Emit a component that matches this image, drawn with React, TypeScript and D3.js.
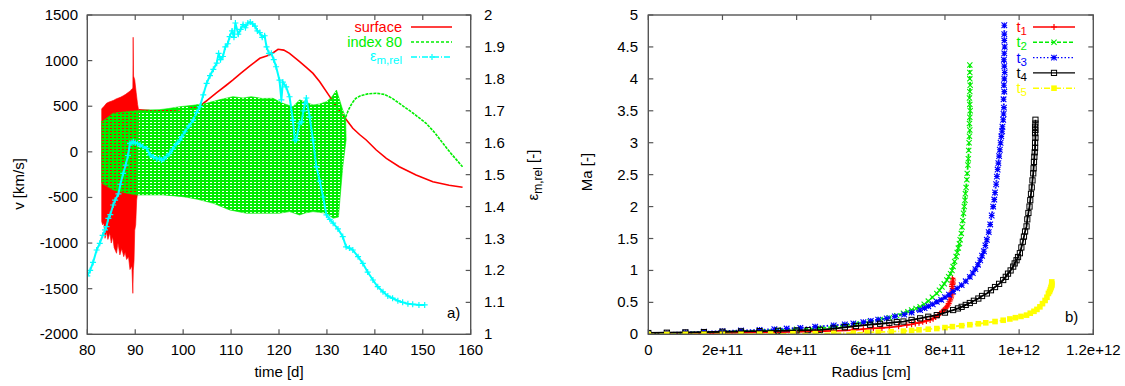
import React from "react";
import * as d3 from "d3";

// ---------- panel a) : velocities and relative mass error vs time ----------
// Oscillating surface velocity during the first days (outer envelope of the burst)
const burstTopTime = [83.0, 83.1, 83.5, 84.0, 84.5, 85.0, 85.5, 86.0, 86.5, 87.0, 87.5, 88.0, 88.5, 89.0, 89.3, 89.5, 89.57, 89.65, 89.9, 90.2, 90.5, 90.7];
const burstTopV = [470, 477, 500, 532, 545, 555, 565, 580, 590, 600, 615, 630, 650, 670, 690, 700, 1256, 830, 790, 650, 520, 460];
const burstBottomTime = [83.0, 83.2, 83.45, 83.7, 84.0, 84.3, 84.7, 85.0, 85.3, 85.6, 86.1, 86.4, 86.8, 87.2, 87.6, 87.9, 88.2, 88.6, 88.9, 89.3, 89.5, 89.6, 89.75, 89.9, 90.1, 90.3, 90.45];
const burstBottomV = [-765, -800, -780, -948, -880, -960, -890, -1000, -930, -1050, -1112, -1000, -1130, -1060, -1149, -1100, -1180, -1150, -1290, -1250, -1551, -1300, -1200, -860, -800, -528, -470];

// Smooth surface velocity afterwards
const surfaceTime = [90.7, 93, 96, 99, 101, 102.5, 103.5, 105, 107, 109, 110.4, 112, 114, 116, 117.4, 118.5, 119.8, 121, 122.2, 124.3, 125.7, 127.1, 128.5, 130.6, 132, 133.3, 135.4, 136.8, 138.2, 140.3, 142.4, 145.1, 148.6, 152.1, 155.5, 158.3];
const surfaceV = [460, 452, 450, 460, 475, 490, 503, 565, 650, 730, 788, 860, 945, 1025, 1050, 1075, 1124, 1115, 1080, 988, 925, 860, 769, 605, 495, 404, 258, 190, 130, 20, -71, -163, -254, -327, -367, -389];

// Zone 80 oscillation band (upper / lower envelope)
const bandTopTime = [83.0, 83.1, 85.4, 88, 90.3, 92.4, 95, 97, 99.3, 102, 104.9, 107.5, 110.4, 112.5, 114.2, 116.5, 118.75, 120.8, 122.9, 124.3, 125.5, 127.1, 128.5, 129.9, 131, 132, 132.7, 133.3, 133.9];
const bandTopV = [340, 330, 423, 440, 450, 459, 462, 475, 495, 510, 532, 570, 605, 590, 605, 585, 587, 532, 495, 570, 545, 514, 525, 550, 600, 678, 560, 459, 380];
const bandBottomTime = [83.0, 83.1, 85.4, 88, 90.3, 95.8, 100, 103, 106.3, 109.7, 113.2, 116.7, 120.1, 122.2, 124.3, 125.5, 127.1, 129.9, 131.3, 132.4, 133.3, 134, 133.9];
const bandBottomV = [-330, -345, -418, -450, -473, -473, -491, -520, -564, -637, -673, -673, -673, -655, -692, -670, -655, -673, -728, -715, -163, 130, 380];

// Zone 80 after the oscillations stop
const zoneTime = [133.9, 134.5, 135.2, 136, 137, 138.5, 140.3, 142, 143.5, 145.1, 146.5, 148, 150.7, 152.5, 154.2, 156, 158.3];
const zoneV = [380, 460, 530, 585, 615, 635, 642, 630, 590, 532, 480, 423, 313, 210, 94, -25, -163];

// Relative mass error (right axis)
const epsTime = [80.0, 80.6, 81.2, 81.95, 82.6, 83.2, 83.7, 84.0, 84.4, 84.8, 85.4, 85.8, 86.5, 86.9, 87.5, 88.0, 88.5, 88.9, 89.3, 89.6, 90.0, 90.5, 91.0, 91.6, 92.4, 93.1, 93.8, 94.5, 95.1, 95.5, 96.0, 96.5, 97.2, 97.8, 98.5, 99.3, 99.7, 100.4, 101.2, 102.1, 102.8, 103.5, 104.2, 104.9, 105.6, 106.3, 107.0, 107.4, 107.8, 108.3, 108.8, 109.3, 109.7, 110.2, 110.6, 110.9, 111.5, 112.0, 112.5, 113.0, 113.5, 114.0, 114.5, 115.0, 115.5, 116.0, 116.5, 117.0, 117.4, 117.9, 118.4, 118.9, 119.4, 120.1, 120.5, 120.8, 121.5, 122.2, 122.9, 123.3, 123.6, 124.3, 124.7, 125.1, 125.4, 125.7, 126.4, 127.1, 127.8, 128.5, 129.2, 129.9, 130.6, 131.3, 132.3, 133.3, 134.0, 134.7, 135.4, 136.5, 137.5, 138.5, 139.6, 140.6, 141.7, 142.7, 143.7, 144.8, 145.8, 146.9, 147.9, 149.2, 150.4];
const epsVal = [1.183, 1.2, 1.225, 1.264, 1.285, 1.31, 1.327, 1.337, 1.363, 1.375, 1.405, 1.42, 1.44, 1.47, 1.504, 1.53, 1.56, 1.598, 1.6, 1.603, 1.6, 1.597, 1.593, 1.588, 1.582, 1.562, 1.555, 1.55, 1.551, 1.546, 1.55, 1.556, 1.567, 1.58, 1.595, 1.608, 1.619, 1.635, 1.652, 1.671, 1.695, 1.713, 1.75, 1.786, 1.81, 1.83, 1.849, 1.88, 1.86, 1.87, 1.9, 1.91, 1.932, 1.95, 1.93, 1.975, 1.94, 1.955, 1.97, 1.96, 1.975, 1.978, 1.972, 1.965, 1.95, 1.945, 1.93, 1.935, 1.9, 1.88, 1.88, 1.86, 1.838, 1.796, 1.734, 1.79, 1.775, 1.744, 1.67, 1.608, 1.609, 1.661, 1.665, 1.7, 1.723, 1.74, 1.68, 1.608, 1.525, 1.48, 1.43, 1.374, 1.36, 1.348, 1.33, 1.306, 1.274, 1.27, 1.264, 1.243, 1.222, 1.195, 1.17, 1.149, 1.133, 1.12, 1.113, 1.105, 1.1, 1.096, 1.094, 1.092, 1.092];

const timeTicks = [80, 90, 100, 110, 120, 130, 140, 150, 160];
const velTicks = [-2000, -1500, -1000, -500, 0, 500, 1000, 1500];
const epsTicks = [1, 1.1, 1.2, 1.3, 1.4, 1.5, 1.6, 1.7, 1.8, 1.9, 2];
const epsTickLabels = ["1", "1.1", "1.2", "1.3", "1.4", "1.5", "1.6", "1.7", "1.8", "1.9", "2"];

// ---------- panel b) : Mach number profiles at five times ----------
// radii are given in units of 1e11 cm
const t1Radius = [0, 0.5, 1, 1.5, 2, 2.5, 3, 3.5, 4, 4.5, 5, 5.5, 5.8, 6.07, 6.3, 6.5, 6.75, 6.97, 7.1, 7.2, 7.3, 7.4, 7.5, 7.6, 7.68, 7.75, 7.82, 7.87, 7.92, 7.97, 8.01, 8.05, 8.08, 8.1, 8.12, 8.14, 8.16, 8.17, 8.19, 8.18, 8.2, 8.21, 8.19, 8.2, 8.21, 8.2, 8.22, 8.2];
const t1Mach = [0.01, 0.012, 0.015, 0.018, 0.02, 0.025, 0.03, 0.035, 0.04, 0.048, 0.055, 0.066, 0.08, 0.094, 0.1, 0.11, 0.125, 0.146, 0.157, 0.17, 0.18, 0.195, 0.21, 0.225, 0.245, 0.27, 0.3, 0.33, 0.355, 0.38, 0.405, 0.43, 0.455, 0.48, 0.51, 0.54, 0.57, 0.6, 0.63, 0.66, 0.69, 0.72, 0.75, 0.78, 0.8, 0.82, 0.85, 0.877];

const t2Radius = [0, 0.5, 1, 1.5, 2, 2.5, 3, 3.5, 4, 4.63, 5, 5.3, 5.6, 5.98, 6.25, 6.5, 6.7, 6.88, 7.0, 7.1, 7.22, 7.33, 7.44, 7.55, 7.66, 7.78, 7.85, 7.92, 7.98, 8.05, 8.1, 8.15, 8.19, 8.22, 8.26, 8.3, 8.33, 8.36, 8.39, 8.41, 8.44, 8.46, 8.48, 8.5, 8.52, 8.54, 8.55, 8.57, 8.59, 8.6, 8.62, 8.63, 8.64, 8.65, 8.66, 8.67, 8.66, 8.67, 8.68, 8.67, 8.66, 8.67, 8.68, 8.67, 8.67, 8.67];
const t2Mach = [0.01, 0.018, 0.025, 0.032, 0.04, 0.05, 0.06, 0.07, 0.08, 0.094, 0.115, 0.14, 0.165, 0.197, 0.23, 0.26, 0.29, 0.33, 0.355, 0.38, 0.405, 0.43, 0.47, 0.52, 0.58, 0.64, 0.69, 0.74, 0.79, 0.85, 0.9, 0.95, 1.0, 1.06, 1.14, 1.22, 1.28, 1.35, 1.42, 1.48, 1.58, 1.68, 1.78, 1.895, 2.0, 2.1, 2.2, 2.3, 2.42, 2.52, 2.65, 2.75, 2.88, 3.0, 3.1, 3.2, 3.3, 3.4, 3.5, 3.6, 3.7, 3.8, 3.9, 4.0, 4.1, 4.217];

const t3Radius = [0, 0.5, 1, 1.5, 2, 2.5, 3, 3.4, 3.73, 4.1, 4.5, 5, 5.3, 5.53, 5.8, 6, 6.2, 6.43, 6.65, 6.9, 7.1, 7.33, 7.45, 7.55, 7.67, 7.78, 7.9, 8, 8.11, 8.22, 8.33, 8.45, 8.56, 8.67, 8.75, 8.82, 8.89, 8.95, 9.0, 9.05, 9.09, 9.13, 9.18, 9.22, 9.26, 9.3, 9.33, 9.35, 9.38, 9.4, 9.42, 9.44, 9.46, 9.48, 9.5, 9.52, 9.54, 9.55, 9.57, 9.58, 9.59, 9.58, 9.6, 9.59, 9.6, 9.61, 9.6, 9.59, 9.6, 9.61, 9.6, 9.6, 9.6];
const t3Mach = [0.01, 0.02, 0.03, 0.04, 0.05, 0.06, 0.07, 0.08, 0.09, 0.1, 0.12, 0.14, 0.155, 0.17, 0.19, 0.21, 0.23, 0.25, 0.28, 0.31, 0.34, 0.38, 0.41, 0.44, 0.47, 0.51, 0.54, 0.58, 0.62, 0.67, 0.72, 0.77, 0.83, 0.9, 0.96, 1.02, 1.09, 1.16, 1.23, 1.3, 1.39, 1.48, 1.6, 1.72, 1.86, 2.0, 2.11, 2.22, 2.35, 2.47, 2.58, 2.68, 2.79, 2.89, 3.0, 3.1, 3.18, 3.25, 3.36, 3.45, 3.55, 3.68, 3.8, 3.9, 4.0, 4.1, 4.2, 4.3, 4.4, 4.5, 4.6, 4.7, 4.84];

const t4Radius = [0, 0.5, 1, 1.5, 2, 2.5, 3, 3.5, 4, 4.3, 4.63, 5, 5.3, 5.6, 5.98, 6.25, 6.5, 6.7, 6.88, 7.1, 7.33, 7.55, 7.78, 8, 8.22, 8.35, 8.45, 8.56, 8.67, 8.78, 8.9, 9.0, 9.13, 9.24, 9.35, 9.46, 9.57, 9.64, 9.7, 9.77, 9.84, 9.88, 9.93, 9.97, 10.02, 10.06, 10.1, 10.13, 10.16, 10.2, 10.22, 10.25, 10.28, 10.3, 10.32, 10.34, 10.36, 10.38, 10.39, 10.4, 10.41, 10.42, 10.43, 10.43, 10.44, 10.43, 10.44, 10.43, 10.44, 10.44];
const t4Mach = [0.02, 0.025, 0.03, 0.035, 0.04, 0.045, 0.05, 0.055, 0.06, 0.065, 0.07, 0.09, 0.11, 0.13, 0.15, 0.165, 0.18, 0.19, 0.2, 0.225, 0.25, 0.275, 0.3, 0.34, 0.38, 0.405, 0.43, 0.46, 0.49, 0.525, 0.56, 0.6, 0.64, 0.69, 0.74, 0.79, 0.85, 0.9, 0.95, 1.0, 1.06, 1.11, 1.16, 1.21, 1.27, 1.36, 1.45, 1.53, 1.61, 1.69, 1.8, 1.9, 2.0, 2.1, 2.2, 2.3, 2.41, 2.52, 2.6, 2.7, 2.78, 2.85, 2.92, 3.0, 3.08, 3.15, 3.2, 3.25, 3.3, 3.36];

const t5Radius = [0, 0.5, 1, 1.5, 2, 2.5, 3, 3.3, 3.9, 4.5, 5, 5.53, 5.9, 6.2, 6.55, 6.88, 7.1, 7.3, 7.55, 7.78, 8, 8.2, 8.45, 8.67, 8.9, 9.1, 9.35, 9.57, 9.75, 9.9, 10.05, 10.2, 10.3, 10.4, 10.48, 10.56, 10.63, 10.7, 10.75, 10.79, 10.82, 10.84, 10.86, 10.87, 10.88, 10.88, 10.88];
const t5Mach = [0.0, 0.0, 0.0, 0.0, 0.0, 0.0, 0.003, 0.005, 0.008, 0.01, 0.015, 0.02, 0.028, 0.035, 0.042, 0.05, 0.06, 0.07, 0.08, 0.09, 0.105, 0.12, 0.135, 0.15, 0.165, 0.18, 0.2, 0.22, 0.24, 0.26, 0.28, 0.3, 0.33, 0.36, 0.39, 0.43, 0.48, 0.53, 0.58, 0.64, 0.67, 0.7, 0.73, 0.75, 0.77, 0.79, 0.82];

const radiusTicks = [0, 2, 4, 6, 8, 10, 12];
const radiusTickLabels = ["0", "2e+11", "4e+11", "6e+11", "8e+11", "1e+12", "1.2e+12"];
const machTicks = [0, 0.5, 1, 1.5, 2, 2.5, 3, 3.5, 4, 4.5, 5];
const machTickLabels = ["0", "0.5", "1", "1.5", "2", "2.5", "3", "3.5", "4", "4.5", "5"];

// ---------- layout ----------
const W = 1125;
const H = 386;
const TOP = 15;
const BOT = 334.3;
const LX0 = 87.3;
const LX1 = 470.7;
const RX0 = 648.3;
const RX1 = 1093.3;
const FONT = "'Liberation Sans', Arial, Helvetica, sans-serif";
const FRAME = "#555";
const FS = 15;
const LFS = 14.5;
const TICK = 5;

const zip = (a: number[], b: number[]): [number, number][] => a.map((v, i) => [v, b[i]]);

type MarkKind = "plus" | "cross" | "star" | "square" | "fsquare";

function Marker({ kind, x, y, color, s = 3 }: { kind: MarkKind; x: number; y: number; color: string; s?: number }) {
  if (kind === "plus") {
    return <path d={`M${x - s},${y}H${x + s}M${x},${y - s}V${y + s}`} stroke={color} strokeWidth={1.2} fill="none" />;
  }
  if (kind === "cross") {
    return <path d={`M${x - s},${y - s}L${x + s},${y + s}M${x - s},${y + s}L${x + s},${y - s}`} stroke={color} strokeWidth={1.1} fill="none" />;
  }
  if (kind === "star") {
    return (
      <path
        d={`M${x - s},${y}H${x + s}M${x},${y - s}V${y + s}M${x - s},${y - s}L${x + s},${y + s}M${x - s},${y + s}L${x + s},${y - s}`}
        stroke={color}
        strokeWidth={1.1}
        fill="none"
      />
    );
  }
  if (kind === "square") {
    return <rect x={x - s} y={y - s} width={2 * s} height={2 * s} stroke={color} strokeWidth={1} fill="none" />;
  }
  return <rect x={x - s} y={y - s} width={2 * s} height={2 * s} fill={color} />;
}

export default function App() {
  const xa = d3.scaleLinear().domain([80, 160]).range([LX0, LX1]);
  const ya = d3.scaleLinear().domain([-2000, 1500]).range([BOT, TOP]);
  const ya2 = d3.scaleLinear().domain([1, 2]).range([BOT, TOP]);
  const xb = d3.scaleLinear().domain([0, 12]).range([RX0, RX1]);
  const yb = d3.scaleLinear().domain([0, 5]).range([BOT, TOP]);

  const lineA = d3.line<[number, number]>().x((d) => xa(d[0])).y((d) => ya(d[1]));
  const lineA2 = d3.line<[number, number]>().x((d) => xa(d[0])).y((d) => ya2(d[1]));
  const lineB = d3.line<[number, number]>().x((d) => xb(d[0])).y((d) => yb(d[1]));

  const burstPoly = [...zip(burstTopTime, burstTopV), ...zip(burstBottomTime, burstBottomV).reverse()];
  const bandPoly = [...zip(bandTopTime, bandTopV), ...zip(bandBottomTime, bandBottomV).reverse()];
  const surface = zip(surfaceTime, surfaceV);
  const zone = zip(zoneTime, zoneV);
  const eps = zip(epsTime, epsVal);

  const series = [
    { name: "1", pts: zip(t1Radius, t1Mach), color: "#ff0000", dash: "none", mark: "plus" as MarkKind, s: 3 },
    { name: "2", pts: zip(t2Radius, t2Mach), color: "#00ee00", dash: "4,2", mark: "cross" as MarkKind, s: 2.6 },
    { name: "3", pts: zip(t3Radius, t3Mach), color: "#0000ff", dash: "1.5,2", mark: "star" as MarkKind, s: 2.8 },
    { name: "4", pts: zip(t4Radius, t4Mach), color: "#000000", dash: "none", mark: "square" as MarkKind, s: 2.6 },
    { name: "5", pts: zip(t5Radius, t5Mach), color: "#ffff00", dash: "6,2,1,2", mark: "fsquare" as MarkKind, s: 2.8 },
  ];

  const legendA = [
    { label: "surface", color: "#ff0000", dash: "none", y: 27 },
    { label: "index 80", color: "#00ee00", dash: "3,2", y: 42 },
  ];

  return (
    <svg width={W} height={H} style={{ position: "absolute", left: 0, top: 0, background: "#fff" }} fontFamily={FONT}>
      <defs>
        <clipPath id="clipA">
          <rect x={LX0} y={TOP} width={LX1 - LX0} height={BOT - TOP} />
        </clipPath>
        <clipPath id="clipB">
          <rect x={RX0} y={TOP - 6} width={RX1 - RX0} height={BOT - TOP + 6} />
        </clipPath>
        <pattern id="bandfill" width={4} height={3} patternUnits="userSpaceOnUse">
          <rect x={0} y={0} width={4} height={2} fill="#00ee00" />
          <rect x={0} y={2} width={2} height={1} fill="#00ee00" />
        </pattern>
      </defs>

      {/* ---------------- panel a) ---------------- */}
      <g clipPath="url(#clipA)">
        <path d={lineA(burstPoly) + "Z"} fill="#ff0000" stroke="#ff0000" strokeWidth={0.6} />
        <path d={lineA(surface) ?? ""} fill="none" stroke="#ff0000" strokeWidth={1.6} />
        <path d={lineA(bandPoly) + "Z"} fill="url(#bandfill)" stroke="#00ee00" strokeWidth={0.6} />
        <path d={lineA(zone) ?? ""} fill="none" stroke="#00ee00" strokeWidth={1.6} strokeDasharray="3,1" />
        <path d={lineA2(eps) ?? ""} fill="none" stroke="#00ffff" strokeWidth={2} />
        {eps.map((d, i) => (
          <Marker key={i} kind="plus" x={xa(d[0])} y={ya2(d[1])} color="#00ffff" s={3} />
        ))}
      </g>

      <rect x={LX0} y={TOP} width={LX1 - LX0} height={BOT - TOP} fill="none" stroke={FRAME} strokeWidth={1.4} />
      {timeTicks.map((t) => (
        <g key={"tx" + t}>
          <line x1={xa(t)} x2={xa(t)} y1={BOT} y2={BOT - TICK} stroke={FRAME} strokeWidth={1.2} />
          <line x1={xa(t)} x2={xa(t)} y1={TOP} y2={TOP + TICK} stroke={FRAME} strokeWidth={1.2} />
          <text x={xa(t)} y={BOT + 21} fontSize={FS} textAnchor="middle" fill="#000">
            {t}
          </text>
        </g>
      ))}
      {velTicks.map((v) => (
        <g key={"vy" + v}>
          <line x1={LX0} x2={LX0 + TICK} y1={ya(v)} y2={ya(v)} stroke={FRAME} strokeWidth={1.2} />
          <text x={78} y={ya(v) + 5} fontSize={FS} textAnchor="end" fill="#000">
            {v}
          </text>
        </g>
      ))}
      {epsTicks.map((e, i) => (
        <g key={"ey" + e}>
          <line x1={LX1} x2={LX1 - TICK} y1={ya2(e)} y2={ya2(e)} stroke={FRAME} strokeWidth={1.2} />
          <text x={484} y={ya2(e) + 5} fontSize={FS} textAnchor="start" fill="#000">
            {epsTickLabels[i]}
          </text>
        </g>
      ))}
      <text x={279} y={377} fontSize={FS} textAnchor="middle" fill="#000">
        time [d]
      </text>
      <text transform="translate(24,184) rotate(-90)" fontSize={FS} textAnchor="middle" fill="#000">
        v [km/s]
      </text>
      <text transform="translate(538,175) rotate(-90)" fontSize={FS} textAnchor="middle" fill="#000">
        ε<tspan fontSize={12} dy={4}>m,rel</tspan>
        <tspan dy={-4}> [-]</tspan>
      </text>
      <text x={447} y={318} fontSize={FS} fill="#000">
        a)
      </text>

      {/* legend a) */}
      {legendA.map((l) => (
        <g key={l.label}>
          <text x={402} y={l.y + 5} fontSize={LFS} textAnchor="end" fill={l.color}>
            {l.label}
          </text>
          <line x1={411} x2={452} y1={l.y} y2={l.y} stroke={l.color} strokeWidth={1.4} strokeDasharray={l.dash} />
        </g>
      ))}
      <text x={402} y={61} fontSize={LFS} textAnchor="end" fill="#00ffff">
        ε<tspan fontSize={11.5} dy={3}>m,rel</tspan>
      </text>
      <line x1={411} x2={452} y1={57} y2={57} stroke="#00ffff" strokeWidth={1.4} strokeDasharray="6,2,1,2" />
      <Marker kind="plus" x={432} y={57} color="#00ffff" s={3} />

      {/* ---------------- panel b) ---------------- */}
      <g clipPath="url(#clipB)">
        {series.map((s) => (
          <g key={"s" + s.name}>
            <path d={lineB(s.pts) ?? ""} fill="none" stroke={s.color} strokeWidth={1.8} strokeDasharray={s.dash} />
            {s.pts.map((d, i) => (
              <Marker key={i} kind={s.mark} x={xb(d[0])} y={yb(d[1])} color={s.color} s={s.s} />
            ))}
          </g>
        ))}
      </g>

      <rect x={RX0} y={TOP} width={RX1 - RX0} height={BOT - TOP} fill="none" stroke={FRAME} strokeWidth={1.4} />
      {radiusTicks.map((r, i) => (
        <g key={"rx" + r}>
          <line x1={xb(r)} x2={xb(r)} y1={BOT} y2={BOT - TICK} stroke={FRAME} strokeWidth={1.2} />
          <line x1={xb(r)} x2={xb(r)} y1={TOP} y2={TOP + TICK} stroke={FRAME} strokeWidth={1.2} />
          <text x={xb(r)} y={BOT + 21} fontSize={FS} textAnchor="middle" fill="#000">
            {radiusTickLabels[i]}
          </text>
        </g>
      ))}
      {machTicks.map((m, i) => (
        <g key={"my" + m}>
          <line x1={RX0} x2={RX0 + TICK} y1={yb(m)} y2={yb(m)} stroke={FRAME} strokeWidth={1.2} />
          <line x1={RX1} x2={RX1 - TICK} y1={yb(m)} y2={yb(m)} stroke={FRAME} strokeWidth={1.2} />
          <text x={638} y={yb(m) + 5} fontSize={FS} textAnchor="end" fill="#000">
            {machTickLabels[i]}
          </text>
        </g>
      ))}
      <text x={871} y={377} fontSize={FS} textAnchor="middle" fill="#000">
        Radius [cm]
      </text>
      <text transform="translate(592,172) rotate(-90)" fontSize={FS} textAnchor="middle" fill="#000">
        Ma [-]
      </text>
      <text x={1065} y={322} fontSize={FS} fill="#000">
        b)
      </text>

      {/* legend b) */}
      {series.map((s, i) => {
        const y = 27 + i * 15.3;
        return (
          <g key={"lg" + s.name}>
            <text x={1027} y={y + 5} fontSize={LFS} textAnchor="end" fill={s.color}>
              t<tspan fontSize={11.5} dy={3}>{s.name}</tspan>
            </text>
            <line x1={1033} x2={1075} y1={y} y2={y} stroke={s.color} strokeWidth={1.4} strokeDasharray={s.dash} />
            <Marker kind={s.mark} x={1054} y={y} color={s.color} s={s.s} />
          </g>
        );
      })}
    </svg>
  );
}
